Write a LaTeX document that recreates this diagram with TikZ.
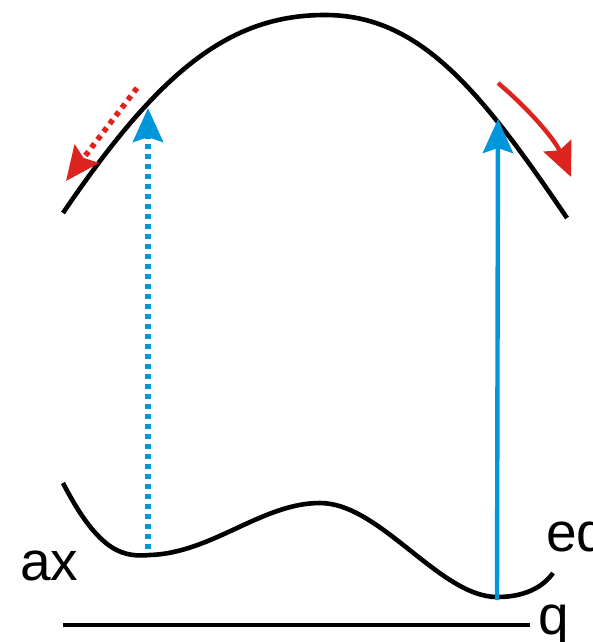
\documentclass[tikz,border=0pt]{standalone}
\usepackage{fontspec}
\setmainfont{Liberation Sans}
\usetikzlibrary{arrows.meta}
\definecolor{myblue}{RGB}{0,150,220}
\definecolor{myred}{RGB}{220,35,30}
\begin{document}
\begin{tikzpicture}[x=1pt,y=-1pt,
  curve/.style={line width=4.6pt, black},
  tipstyle/.style={-{Stealth[length=34pt,width=30pt,inset=5pt]}},
  bluesolid/.style={myblue, line width=4.4pt, tipstyle},
  bluedot/.style={myblue, line width=5.5pt, dash pattern=on 5pt off 5pt, tipstyle},
  redsolid/.style={myred, line width=4.4pt, tipstyle},
  reddot/.style={myred, line width=5.5pt, dash pattern=on 5pt off 5pt, tipstyle},
  lbl/.style={inner sep=0pt, anchor=base west, font=\fontsize{55}{60}\selectfont}]
\path[use as bounding box, clip] (0,0) rectangle (592,642);
\fill[white] (0,0) rectangle (592,642);
% upper curve
\draw[curve] (63,213) .. controls (160,70) and (230,15) .. (325,15)
  .. controls (420,15) and (480,90) .. (567,218);
% lower curve
\draw[curve] (63,483) .. controls (100,555) and (125,557) .. (150,555)
  .. controls (212,553) and (262,503) .. (320,503)
  .. controls (380,503) and (440,597) .. (497,597)
  .. controls (525,597) and (543,587) .. (553,573);
% axis line
\coordinate (l0) at (63,625);
\coordinate (l1) at (530,625);
\draw[curve] (l0) -- (l1);
% coordinates for arrows
\coordinate (bd0) at (148,549);
\coordinate (bd1) at (148,108);
\coordinate (bs0) at (497,600);
\coordinate (bs1) at (498,119);
\coordinate (rd0) at (137,88);
\coordinate (rd1) at (66,181);
\coordinate (rs0) at (498,83);
\coordinate (rs1) at (571,177);
\draw[bluedot] (bd0) -- (bd1);
\draw[bluesolid] (bs0) -- (bs1);
\draw[reddot] (rd0) -- (rd1);
\draw[redsolid] (rs0) .. controls (530,110) and (555,140) .. (rs1);
% labels
\node[lbl] (ax) at (20,580) {ax};
\node[lbl] (eq) at (546,551) {eq};
\node[lbl] (q) at (538,634) {q};
\end{tikzpicture}
\end{document}
